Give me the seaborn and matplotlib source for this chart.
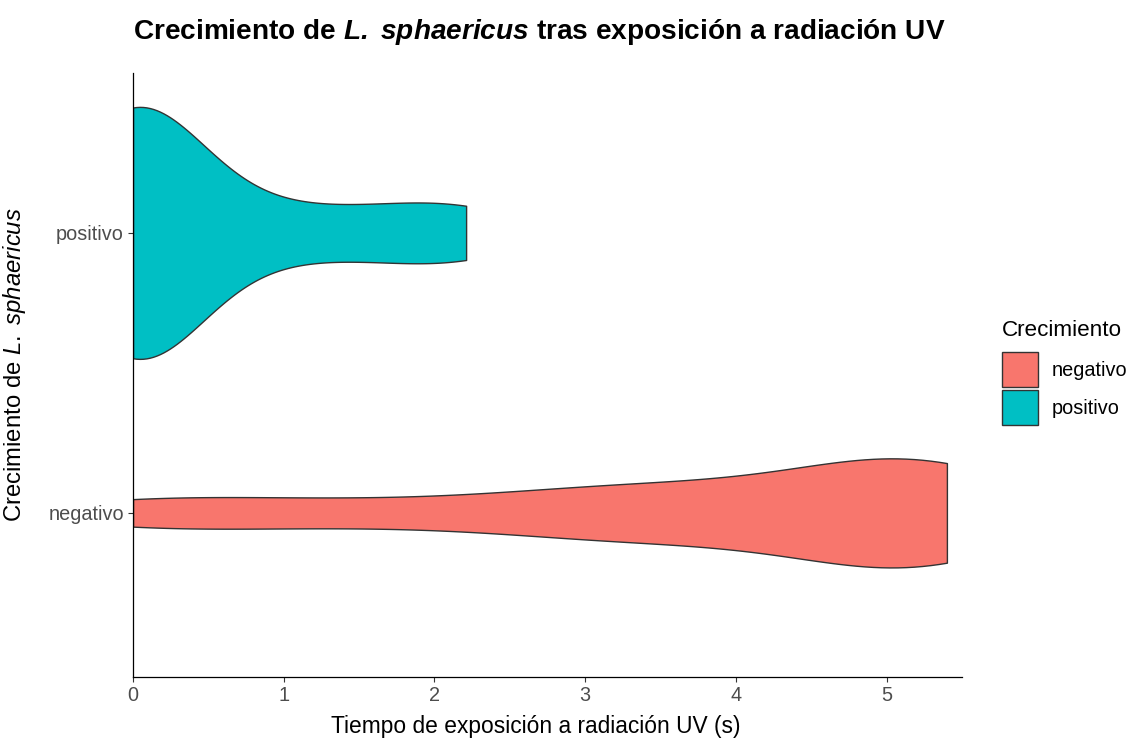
import numpy as np
import pandas as pd
import seaborn as sns
import matplotlib.pyplot as plt
from matplotlib.patches import Patch

# tiempos de exposicion (s) por resultado de crecimiento
tiempo_positivo = [0, 0, 0, 0, 0, 0, 0, 0, 0, 0, 0, 0,
                   0.3, 0.65, 1.0, 1.4, 1.8, 2.21, 2.21]
tiempo_negativo = [0, 0, 0, 0, 0.3, 0.7, 1.05, 1.2, 1.4, 1.75, 2.05, 2.35,
                   2.6, 2.7, 2.85, 3.0, 3.15, 3.3, 3.4, 3.45, 3.6, 3.7, 3.8,
                   3.9, 4.05, 4.2, 4.35, 4.55, 4.8, 4.85, 4.9, 4.95, 5.0,
                   5.05, 5.1, 5.1, 5.15, 5.2, 5.2, 5.2, 5.25, 5.25, 5.3,
                   5.3, 5.35, 5.35, 5.4, 5.4, 5.4, 5.4, 5.4]
niveles = ["negativo", "positivo"]
colores = {"negativo": "#F8766D", "positivo": "#00BFC4"}
x_ticks = [0, 1, 2, 3, 4, 5]

# ancho de banda del kde (en segundos) para cada grupo
anchos_banda = {len(tiempo_positivo): 0.44, len(tiempo_negativo): 0.72}


def factor_banda(kde):
    return anchos_banda[kde.n] / np.std(kde.dataset, ddof=1)


df = pd.DataFrame({
    "tiempo": tiempo_positivo + tiempo_negativo,
    "crecimiento": ["positivo"] * len(tiempo_positivo) + ["negativo"] * len(tiempo_negativo),
})

sns.set_theme(style="ticks")
plt.rcParams["font.family"] = ["Liberation Sans", "DejaVu Sans"]
plt.rcParams["text.color"] = "black"
plt.rcParams["axes.labelcolor"] = "black"
plt.rcParams["mathtext.fontset"] = "custom"
plt.rcParams["mathtext.rm"] = "Liberation Sans"
plt.rcParams["mathtext.it"] = "Liberation Sans:italic"
plt.rcParams["mathtext.bf"] = "Liberation Sans:bold"
try:
    plt.rcParams["mathtext.bfit"] = "Liberation Sans:italic:bold"
    cursiva_negrita = r"\mathbfit"
except KeyError:
    cursiva_negrita = r"\mathit"

fig = plt.figure(figsize=(11.34, 7.38), dpi=100)
ax = fig.add_axes([0.1173, 0.0827, 0.731, 0.8184])

sns.violinplot(data=df, x="tiempo", y="crecimiento", hue="crecimiento",
               order=["positivo", "negativo"], hue_order=niveles,
               palette=colores, saturation=1, orient="h", cut=0, inner=None,
               density_norm="area", common_norm=True, bw_method=factor_banda,
               width=0.9, linewidth=1.0, linecolor="#333333",
               legend=False, ax=ax)

ax.set_xlim(0, 5.5)
ax.set_ylim(1.586, -0.571)
ax.set_xticks(x_ticks)
for s in ["top", "right"]:
    ax.spines[s].set_visible(False)
for s in ["left", "bottom"]:
    ax.spines[s].set_color("black")
    ax.spines[s].set_linewidth(0.9)
ax.tick_params(axis="both", labelsize=14.3, labelcolor="#4D4D4D",
               color="#333333", length=3.6, width=0.8, pad=3)

ax.set_xlabel("Tiempo de exposición a radiación UV (s)", fontsize=16.4,
              va="baseline")
ax.xaxis.set_label_coords(0.486, -0.0927)
ax.set_ylabel(r"Crecimiento de $\mathit{L.}$ $\mathit{sphaericus}$",
              fontsize=17.2)
ax.yaxis.set_label_coords(-0.1267, 0.5166)

fig.text(133 / 1134, 1 - 39 / 738,
         "Crecimiento de $" + cursiva_negrita + "{L.}$ $" + cursiva_negrita
         + "{sphaericus}$ tras exposición a radiación UV",
         fontsize=20.2, fontweight="bold", ha="left", va="baseline")

# leyenda: titulo aparte para controlar el espacio hasta las claves
fig.text(1002 / 1134, 1 - 336 / 738, "Crecimiento", fontsize=16.2,
         ha="left", va="baseline")
handles = [Patch(facecolor=colores[n], edgecolor="#333333", linewidth=1.0)
           for n in niveles]
fig.legend(handles, niveles, loc="upper left",
           bbox_to_anchor=(1002 / 1134, 1 - 352 / 738), frameon=False,
           fontsize=14.3, handlelength=1.81, handleheight=2.33,
           handletextpad=0.7, labelspacing=0.15, borderpad=0,
           borderaxespad=0)

fig.savefig("out.png", dpi=100)
